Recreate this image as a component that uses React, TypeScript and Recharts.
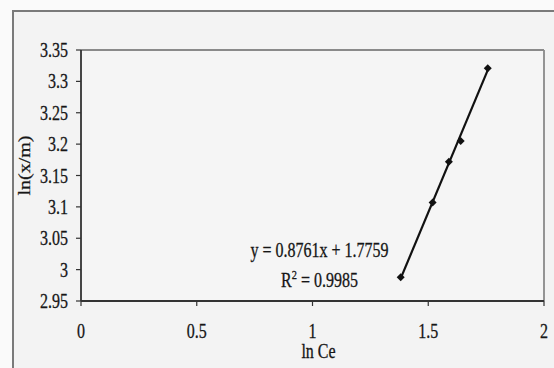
import { ReferenceDot, ReferenceLine, Scatter, ScatterChart, XAxis, YAxis, CartesianGrid } from 'recharts'

const lnCe = [1.381, 1.519, 1.589, 1.64, 1.757]
const lnXm = [2.988, 3.107, 3.172, 3.205, 3.321]
const trendX = [1.381, 1.757]
const trendY = [2.986, 3.318]
const xTicks = [0, 0.5, 1, 1.5, 2]
const yTicks = [2.95, 3, 3.05, 3.1, 3.15, 3.2, 3.25, 3.3, 3.35]
const equation = 'y = 0.8761x + 1.7759'
const rSquared = '0.9985'

const points = lnCe.map((x, i) => ({ x, y: lnXm[i] }))
const trend = trendX.map((x, i) => ({ x, y: trendY[i] }))

const FONT = '"Liberation Serif", "Times New Roman", serif'
const SQUEEZE = 0.8
const INK = '#161616'

function Diamond({ cx, cy }: any) {
  const r = 4
  return <polygon points={`${cx},${cy - r} ${cx + r},${cy} ${cx},${cy + r} ${cx - r},${cy}`} fill="#111" />
}

function YTick({ x, y, payload }: any) {
  return (
    <g transform={`translate(${x},${y}) scale(${SQUEEZE},1)`}>
      <text textAnchor="end" dy="0.35em" fontSize={20} fill={INK} stroke={INK} strokeWidth={0.3} fontFamily={FONT}>{payload.value}</text>
    </g>
  )
}

function XTick({ x, y, payload }: any) {
  return (
    <g transform={`translate(${x},${y + 30}) scale(${SQUEEZE},1)`}>
      <text textAnchor="middle" fontSize={20} fill={INK} stroke={INK} strokeWidth={0.3} fontFamily={FONT}>{payload.value}</text>
    </g>
  )
}

function XLabel({ viewBox }: any) {
  const { x, y, width } = viewBox
  return (
    <g transform={`translate(${x + width / 2 + 6},${y + 57}) scale(${SQUEEZE},1)`}>
      <text textAnchor="middle" fontSize={20} fill={INK} stroke={INK} strokeWidth={0.3} fontFamily={FONT}>ln Ce</text>
    </g>
  )
}

function YLabel({ viewBox }: any) {
  const { y, height } = viewBox
  return (
    <g transform={`translate(30,${y + height / 2 - 10}) scale(${SQUEEZE},1) rotate(-90)`}>
      <text textAnchor="middle" fontSize={20} fill={INK} stroke={INK} strokeWidth={0.3} fontFamily={FONT}>ln(x/m)</text>
    </g>
  )
}

function EquationLabel({ viewBox }: any) {
  const { x, y } = viewBox
  return (
    <g transform={`translate(${x},${y}) scale(${SQUEEZE},1)`} fontFamily={FONT} fontSize={20} fill={INK} stroke={INK} strokeWidth={0.3}>
      <text textAnchor="middle" dy="0.35em">{equation}</text>
      <text textAnchor="middle" y={30} dy="0.35em">
        R<tspan dy={-8} fontSize={13}>2</tspan><tspan dy={8}> = {rSquared}</tspan>
      </text>
    </g>
  )
}

export default function App() {
  return (
    <div style={{ position: 'absolute', left: 0, top: 0, width: 554, height: 368, background: '#fafafa', overflow: 'hidden' }}>
      <div style={{ position: 'absolute', left: 12, top: 10, width: 560, height: 356, border: '2px solid #7a7a7a', background: '#f3f3f3' }} />
      <ScatterChart width={554} height={368} margin={{ top: 50, right: 10, bottom: 0, left: 0 }} style={{ position: 'absolute', left: 0, top: 0 }}>
        <CartesianGrid horizontal={false} vertical={false} fill="#f5f5f5" />
        <XAxis type="number" dataKey="x" domain={[0, 2]} ticks={xTicks} height={67} tick={<XTick />} tickSize={5} tickMargin={2}
          axisLine={{ stroke: '#333', strokeWidth: 1.8 }} tickLine={{ stroke: '#333', strokeWidth: 1.2 }} label={<XLabel />} />
        <YAxis type="number" dataKey="y" domain={[2.95, 3.35]} ticks={yTicks} width={81} tick={<YTick />} tickSize={5} tickMargin={8}
          axisLine={{ stroke: '#333', strokeWidth: 1.8 }} tickLine={{ stroke: '#333', strokeWidth: 1.2 }} label={<YLabel />} />
        <ReferenceLine y={3.35} stroke="#8a8a8a" strokeWidth={1.8} />
        <ReferenceLine x={2} stroke="#8a8a8a" strokeWidth={1.8} />
        <Scatter data={trend} line={{ stroke: '#111', strokeWidth: 2.2 }} shape={() => <g />} isAnimationActive={false} />
        <Scatter data={points} shape={<Diamond />} isAnimationActive={false} />
        <ReferenceDot x={1.03} y={3.031} r={0} fill="none" stroke="none" label={<EquationLabel />} />
      </ScatterChart>
    </div>
  )
}
